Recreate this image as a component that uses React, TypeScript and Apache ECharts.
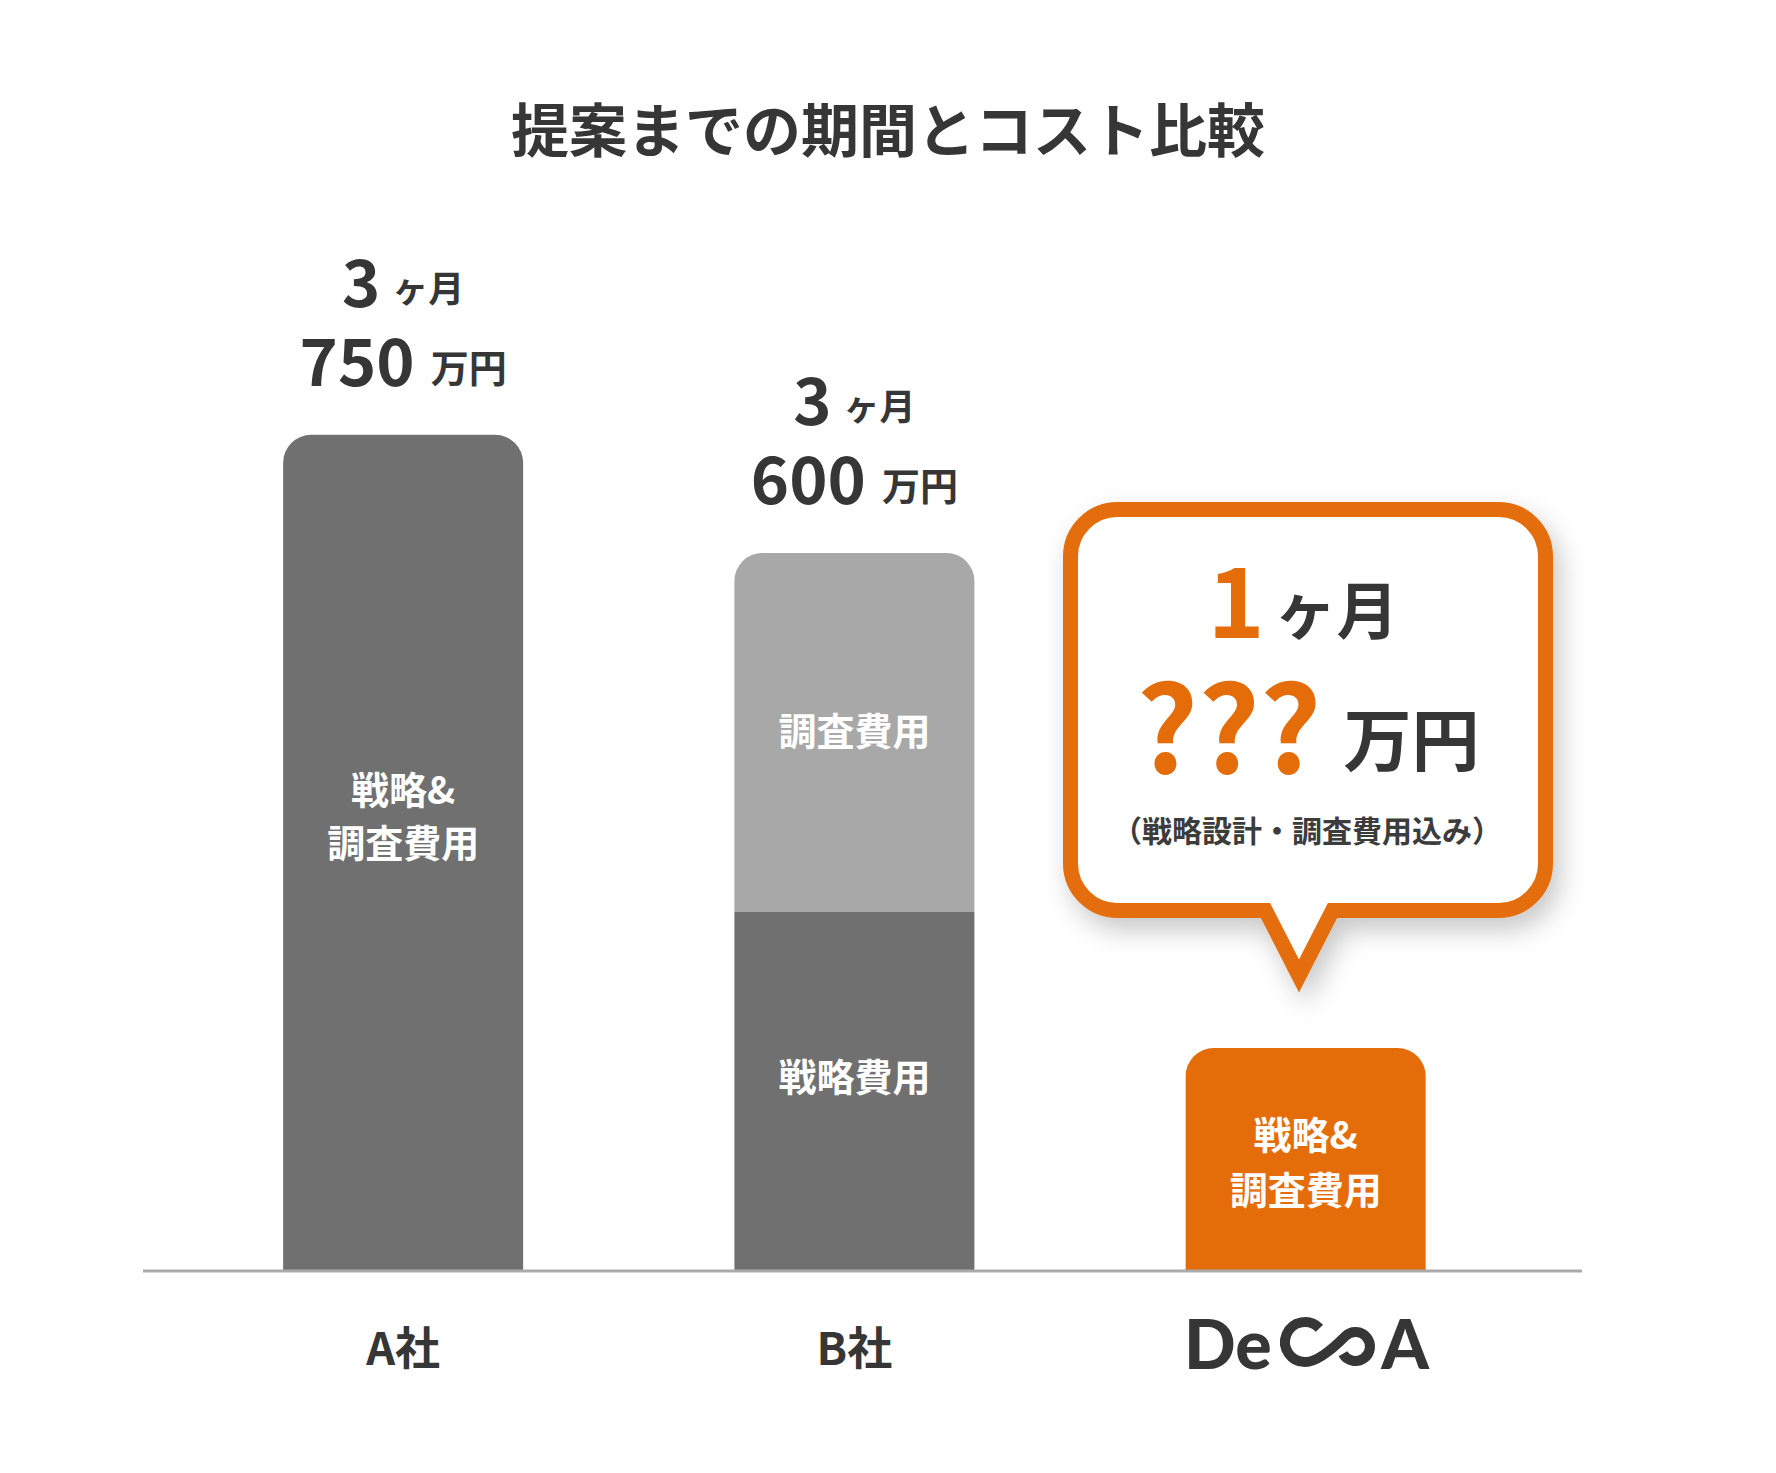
import React, { useEffect, useRef } from 'react';
import * as echarts from 'echarts';

// ---------- data ----------
const title = '提案までの期間とコスト比較';
const categories = ['A社', 'B社', 'DeCoA'];
const periodMonths = ['3', '3', '1'];
const costMan = ['750', '600', '???'];
// bar heights in relative units (DeCoA bar = 1)
const strategyHeights = [3.75, 1.61, 1.0];
const researchHeights: (number | null)[] = [null, 1.61, null];
const strategyLabels = ['戦略&\n調査費用', '戦略費用', '戦略&\n調査費用'];
const researchLabels = ['', '調査費用', ''];
const calloutNote = '（戦略設計・調査費用込み）';

// ---------- styles ----------
const FONT = "'Noto Sans CJK JP', 'Noto Sans', sans-serif";
const LOGO_FONT = 'Lato, "Noto Sans", sans-serif';
const DARK_TEXT = '#363636';
const ORANGE = '#e46d0a';
const DARK_BAR = '#707070';
const LIGHT_BAR = '#a8a8a8';
const baseColors = [DARK_BAR, DARK_BAR, ORANGE];
const strategyLabelOffsets = [-39, -17, 0];
const researchLabelOffsets = [0, -4, 0];
const insideLineHeights = [53, 48, 55];

// callout outline (centerline of the stroke)
const cL = 1070.5, cR = 1545.5, cT = 509.5, cB = 910.5, cr = 47;
const calloutD = `M ${cL + cr} ${cT} H ${cR - cr} A ${cr} ${cr} 0 0 1 ${cR} ${cT + cr} V ${cB - cr} A ${cr} ${cr} 0 0 1 ${cR - cr} ${cB} H 1332.5 L 1299 976 L 1265.5 ${cB} H ${cL + cr} A ${cr} ${cr} 0 0 1 ${cL} ${cB - cr} V ${cT + cr} A ${cr} ${cr} 0 0 1 ${cL + cr} ${cT} Z`;
// DeCoA logo infinity "Co" mark (local coords)
const markD = 'M 134.5 10.2 A 20 20 0 1 0 120.5 44 C 134 44 153.2 25.3 160.25 18.25 A 14.5 14.5 0 1 1 157.9 35.75';

let registered = false;
function registerShapes() {
  if (registered) return;
  echarts.graphic.registerShape('calloutShape', echarts.graphic.extendPath(calloutD, {}));
  echarts.graphic.registerShape('decoaMark', echarts.graphic.extendPath(markD, {}));
  registered = true;
}

export default function App() {
  const ref = useRef<HTMLDivElement>(null);
  useEffect(() => {
    document.body.style.margin = '0';
    registerShapes();
    const chart = echarts.init(ref.current!, undefined, { renderer: 'svg' });
    const totals = strategyHeights.map((v, i) => v + (researchHeights[i] ?? 0));

    const option: any = {
      animation: false,
      backgroundColor: '#ffffff',
      title: {
        text: title,
        left: 'center',
        top: 98,
        padding: 0,
        textStyle: { fontSize: 58, fontWeight: 'bold', color: DARK_TEXT, fontFamily: FONT },
      },
      grid: { left: 177.5, right: 244.7, top: 267.5, bottom: 202 },
      xAxis: {
        type: 'category',
        data: categories,
        axisLine: { show: false },
        axisTick: { show: false },
        axisLabel: {
          margin: 52,
          fontSize: 45,
          fontWeight: 'bold',
          color: DARK_TEXT,
          fontFamily: FONT,
          formatter: (v: string) => (v === 'DeCoA' ? '' : v),
        },
      },
      yAxis: { type: 'value', min: 0, max: 4.5, show: false },
      series: [
        {
          type: 'bar',
          name: '戦略費用',
          stack: 'cost',
          barWidth: 240,
          label: { show: true, color: '#ffffff', fontSize: 38, fontWeight: 'bold', fontFamily: FONT },
          data: strategyHeights.map((v, i) => ({
            value: v,
            itemStyle: { color: baseColors[i], borderRadius: researchHeights[i] == null ? [28, 28, 0, 0] : 0 },
            label: {
              position: 'inside',
              formatter: strategyLabels[i],
              offset: [0, strategyLabelOffsets[i]],
              lineHeight: insideLineHeights[i],
            },
          })),
        },
        {
          type: 'bar',
          name: '調査費用',
          stack: 'cost',
          barWidth: 240,
          label: { show: true, color: '#ffffff', fontSize: 38, fontWeight: 'bold', fontFamily: FONT },
          data: researchHeights.map((v, i) =>
            v == null
              ? '-'
              : {
                  value: v,
                  itemStyle: { color: LIGHT_BAR, borderRadius: [28, 28, 0, 0] },
                  label: { position: 'inside', formatter: researchLabels[i], offset: [0, researchLabelOffsets[i]] },
                }
          ),
        },
        {
          type: 'bar',
          name: '合計',
          barWidth: 240,
          barGap: '-100%',
          silent: true,
          itemStyle: { color: 'rgba(0,0,0,0)' },
          data: totals.map((v, i) => (i === 2 ? '-' : v)),
          label: {
            show: true,
            position: 'top',
            distance: 37,
            formatter: (p: any) =>
              `{big|${periodMonths[p.dataIndex]}}{small|ヶ月}\n{big|${costMan[p.dataIndex]}}{small2|万円}`,
            rich: {
              big: { fontSize: 65, fontWeight: 'bold', color: DARK_TEXT, fontFamily: FONT, lineHeight: 79 },
              small: { fontSize: 36, fontWeight: 'bold', color: DARK_TEXT, fontFamily: FONT, padding: [14, 0, 0, 12] },
              small2: { fontSize: 38, fontWeight: 'bold', color: DARK_TEXT, fontFamily: FONT, padding: [14, 0, 0, 16] },
            },
          },
        },
      ],
      graphic: [
        // baseline
        {
          type: 'line',
          z: 10,
          shape: { x1: 143, y1: 1271, x2: 1582, y2: 1271 },
          style: { stroke: '#aaaaaa', lineWidth: 3 },
        },
        // callout bubble
        {
          type: 'calloutShape',
          z: 10,
          x: 0,
          y: 0,
          style: {
            fill: '#ffffff',
            stroke: ORANGE,
            lineWidth: 15,
            lineJoin: 'miter',
            shadowBlur: 26,
            shadowColor: 'rgba(0,0,0,0.22)',
            shadowOffsetX: 7,
            shadowOffsetY: 12,
          },
        },
        {
          type: 'text',
          z: 11,
          x: 1303,
          y: 595,
          style: {
            text: `{n|${periodMonths[2]}}{u|ヶ月}`,
            align: 'center',
            verticalAlign: 'middle',
            rich: {
              n: { fontSize: 97, fontWeight: 'bold', fill: ORANGE, fontFamily: FONT },
              u: { fontSize: 62, fontWeight: 'bold', fill: DARK_TEXT, fontFamily: FONT, padding: [24, 0, 0, 10] },
            },
          },
        },
        {
          type: 'text',
          z: 11,
          x: 1308,
          y: 721,
          style: {
            text: `{q|${costMan[2]}}{u|万円}`,
            align: 'center',
            verticalAlign: 'middle',
            rich: {
              q: { fontSize: 120, fontWeight: 'bold', fill: ORANGE, fontFamily: FONT },
              u: { fontSize: 68, fontWeight: 'bold', fill: DARK_TEXT, fontFamily: FONT, padding: [30, 0, 0, 22] },
            },
          },
        },
        {
          type: 'text',
          z: 11,
          x: 1307,
          y: 829,
          style: {
            text: calloutNote,
            align: 'center',
            verticalAlign: 'middle',
            fontSize: 30,
            fontWeight: 'bold',
            fill: '#3c3c3c',
            fontFamily: FONT,
          },
        },
        // DeCoA logo
        {
          type: 'text',
          z: 11,
          x: 1184,
          y: 1342,
          style: {
            text: 'De',
            align: 'left',
            verticalAlign: 'middle',
            fontSize: 68,
            fontWeight: 900,
            fill: DARK_TEXT,
            fontFamily: LOGO_FONT,
          },
        },
        {
          type: 'decoaMark',
          z: 11,
          x: 1185,
          y: 1318,
          style: { fill: 'none', stroke: DARK_TEXT, lineWidth: 10 },
        },
        {
          type: 'text',
          z: 11,
          x: 1429,
          y: 1342,
          style: {
            text: 'A',
            align: 'right',
            verticalAlign: 'middle',
            fontSize: 68,
            fontWeight: 900,
            fill: DARK_TEXT,
            fontFamily: LOGO_FONT,
          },
        },
      ],
    };
    chart.setOption(option);
    return () => chart.dispose();
  }, []);
  return <div ref={ref} style={{ width: 1776, height: 1473 }} />;
}
